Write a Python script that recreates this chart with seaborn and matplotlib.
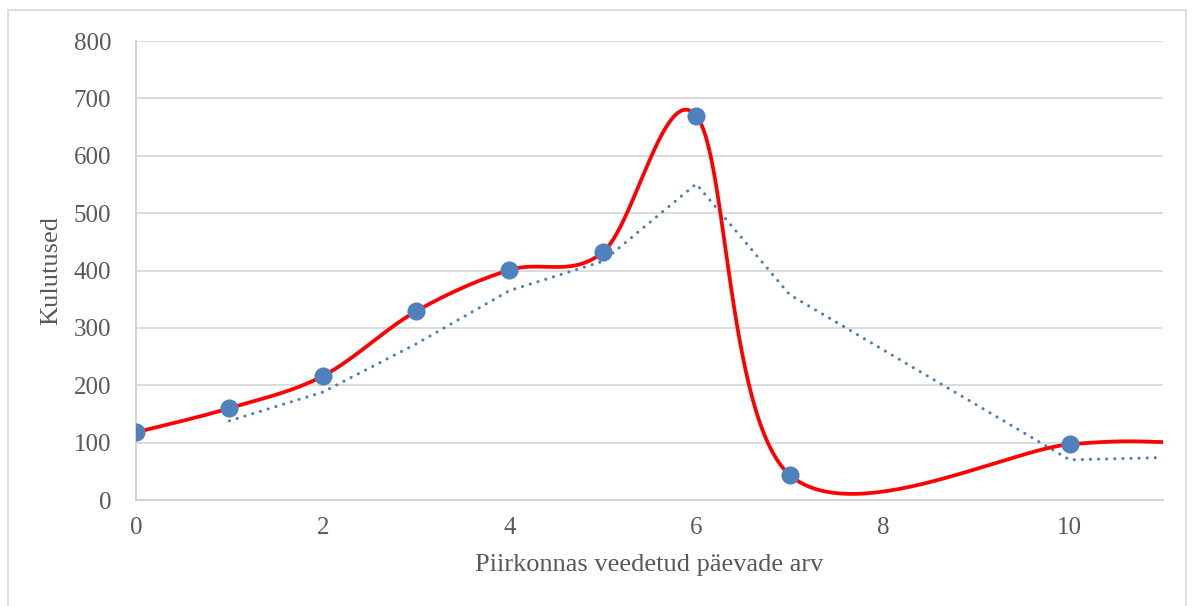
import numpy as np
import pandas as pd
import seaborn as sns
import matplotlib.pyplot as plt
from matplotlib.patches import Rectangle

# data
days = [0, 1, 2, 3, 4, 5, 6, 7, 10]
costs = [118, 160, 216, 329, 401, 432, 670, 44, 97]

# smoothed red series (continues to x=11 without a marker)
line_days = [0, 1, 2, 3, 4, 5, 6, 7, 10, 11]
line_costs = [118, 160, 216, 329, 401, 432, 670, 44, 97, 101]

# dotted moving-average trend line
trend_days = [1, 2, 3, 4, 5, 6, 7, 10, 11]
trend_costs = [138, 188, 272, 365, 416, 551, 358, 70, 74]


def excel_smooth(xs, ys, n=60):
    # Bezier smoothing similar to a spreadsheet "smoothed line"
    pts = np.column_stack([xs, ys]).astype(float)
    out = []
    for i in range(len(pts) - 1):
        p0 = pts[max(i - 1, 0)]
        p1 = pts[i]
        p2 = pts[i + 1]
        p3 = pts[min(i + 2, len(pts) - 1)]
        c1 = p1 + (p2 - p0) / 6
        c2 = p2 - (p3 - p1) / 6
        t = np.linspace(0, 1, n)[:, None]
        seg = ((1 - t) ** 3 * p1 + 3 * (1 - t) ** 2 * t * c1
               + 3 * (1 - t) * t ** 2 * c2 + t ** 3 * p2)
        out.append(seg if i == 0 else seg[1:])
    return np.vstack(out)


sns.set_theme(style='white')
plt.rcParams['font.family'] = ['Liberation Serif', 'DejaVu Serif']

fig = plt.figure(figsize=(11.92, 6.06), dpi=100)
ax = fig.add_axes([0.1141, 0.1749, 0.8616, 0.7574])

smooth = excel_smooth(line_days, line_costs)
smooth_df = pd.DataFrame({'x': smooth[:, 0], 'y': smooth[:, 1]})
sns.lineplot(data=smooth_df, x='x', y='y', sort=False, estimator=None,
             color='#FF0000', linewidth=2.7, ax=ax, zorder=3)

trend_df = pd.DataFrame({'x': trend_days, 'y': trend_costs})
sns.lineplot(data=trend_df, x='x', y='y', sort=False, estimator=None,
             color='#4A7EBB', linewidth=2.2, linestyle=(0, (0.05, 2.6)),
             dash_capstyle='round', ax=ax, zorder=2)

pts_df = pd.DataFrame({'x': days, 'y': costs})
sns.scatterplot(data=pts_df, x='x', y='y', s=170, color='#4F81BD',
                edgecolor='#4F81BD', linewidth=0, ax=ax, zorder=4)

ax.set_xlim(0, 11)
ax.set_ylim(0, 800)
ax.set_xticks([0, 2, 4, 6, 8, 10])
ax.set_yticks(range(0, 801, 100))
ax.grid(axis='y', color='#D9D9D9', linewidth=1.3)
ax.set_axisbelow(True)
for side in ['top', 'right']:
    ax.spines[side].set_visible(False)
ax.spines['left'].set_color('#D0D0D0')
ax.spines['bottom'].set_color('#D0D0D0')
ax.spines['left'].set_linewidth(1.3)
ax.spines['bottom'].set_linewidth(1.3)
ax.tick_params(axis='both', length=0, labelsize=18, labelcolor='#595959')
ax.tick_params(axis='x', pad=12)
ax.tick_params(axis='y', pad=18)

ax.set_xlabel('Piirkonnas veedetud päevade arv', fontsize=19, color='#595959', labelpad=11)
ax.set_ylabel('Kulutused', fontsize=19, color='#595959', labelpad=8)

fig.patches.append(Rectangle((0.007, -0.01), 0.988, 0.993, transform=fig.transFigure,
                             fill=False, edgecolor='#D9D9D9', linewidth=1.2))

fig.savefig('out.png', dpi=100)
